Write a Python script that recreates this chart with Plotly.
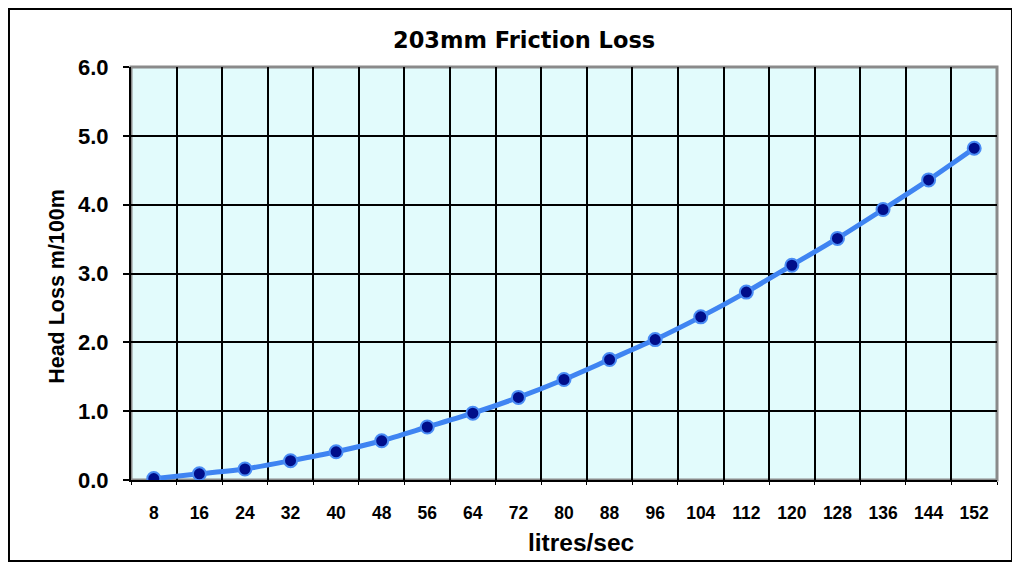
import plotly.graph_objects as go

flow_lps = [8, 16, 24, 32, 40, 48, 56, 64, 72, 80, 88, 96, 104, 112, 120, 128, 136, 144, 152]
head_loss = [0.02, 0.09, 0.16, 0.28, 0.41, 0.57, 0.77, 0.97, 1.20, 1.46, 1.75, 2.04, 2.37,
             2.73, 3.12, 3.51, 3.93, 4.36, 4.82]
y_ticks = [0, 1, 2, 3, 4, 5, 6]
y_tick_text = ["0.0", "1.0", "2.0", "3.0", "4.0", "5.0", "6.0"]

FONT = "Liberation Sans, Arial, sans-serif"
TITLE_FONT = "DejaVu Sans, Verdana, sans-serif"

fig = go.Figure()
fig.add_trace(go.Scatter(
    x=[str(v) for v in flow_lps], y=head_loss, mode="lines+markers",
    line=dict(color="#3f84f2", width=5, shape="spline", smoothing=0.6),
    marker=dict(size=13, color="#000e8a", line=dict(color="#4a8cf5", width=2)),
    showlegend=False, cliponaxis=True,
))

fig.update_layout(
    width=1012, height=556,
    margin=dict(l=123, r=23, t=59, b=84),
    paper_bgcolor="white", plot_bgcolor="#e2fbfc",
    title=dict(text="<b>203mm Friction Loss</b>", x=0.51, xanchor="center",
               y=0.942, yanchor="middle", font=dict(family=TITLE_FONT, size=22.5, color="black")),
    font=dict(family=FONT, color="black"),
    shapes=[
        dict(type="rect", xref="paper", yref="paper", x0=0, x1=1, y0=0, y1=1,
             line=dict(color="#8a8a8a", width=3), layer="below"),
        dict(type="rect", xref="paper", yref="paper", x0=-0.1409, x1=1.0173, y0=-0.1961, y1=1.1404,
             line=dict(color="black", width=2)),
    ],
    annotations=[
        dict(text="<b>litres/sec</b>", xref="paper", yref="paper", x=0.52, y=-0.1525,
             xanchor="center", yanchor="middle", showarrow=False,
             font=dict(family=FONT, size=24.5, color="black")),
        dict(text="<b>Head Loss m/100m</b>", xref="paper", yref="paper", x=-0.0855, y=0.47,
             xanchor="center", yanchor="middle", showarrow=False, textangle=-90,
             font=dict(family=FONT, size=21.5, color="black")),
    ],
)

fig.update_xaxes(
    type="category", tickson="boundaries", showgrid=True, gridcolor="black", gridwidth=2,
    ticks="outside", ticklen=3, tickcolor="black", tickwidth=1,
    showline=True, linecolor="black", linewidth=2,
    tickfont=dict(family=FONT, size=17.5, color="black", weight="bold"),
    ticklabelstandoff=16,
    range=[-0.5, len(flow_lps) - 0.5], zeroline=False,
)
fig.update_yaxes(
    range=[0, 6], tickvals=y_ticks, ticktext=y_tick_text,
    showgrid=True, gridcolor="black", gridwidth=2,
    ticks="outside", ticklen=6, tickcolor="black", tickwidth=2,
    showline=True, linecolor="black", linewidth=2, zeroline=False,
    tickfont=dict(family=FONT, size=22, color="black", weight="bold"),
    ticklabelstandoff=10,
)

fig.write_html("out.html")
